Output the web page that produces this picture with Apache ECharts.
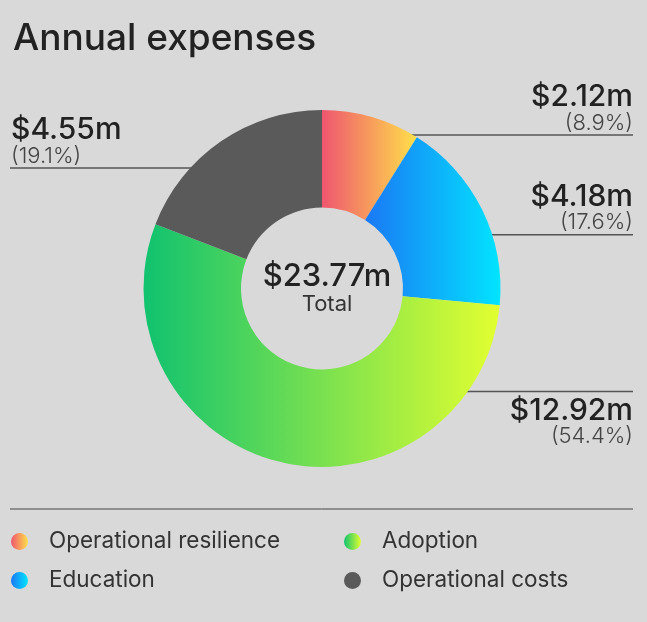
<!DOCTYPE html>
<html>
<head>
<meta charset="utf-8">
<script src="https://cdn.jsdelivr.net/npm/echarts@6/dist/echarts.min.js"></script>
<style>
  html, body {margin: 0; padding: 0; background: #d9d9d9;}
  #chart {width: 647px; height: 622px;}
</style>
</head>
<body>
<div id="chart"></div>
<script>
// data
const categories = ['Operational resilience', 'Education', 'Adoption', 'Operational costs']
const values = [2.12, 4.18, 12.92, 4.55]
const percents = [8.9, 17.6, 54.4, 19.1]
const totalCaption = 'Total'

// slice fills (left -> right gradients)
const fills = [
  ['#ef566f', '#ffe04a'],
  ['#1a78f4', '#02e4ff'],
  ['#10c26f', '#e2ff30'],
  ['#5b5a5b', '#5b5a5b']
]
// where each leader line leaves its slice: fraction along the slice, side of the label, text above/below line
const leaders = [
  {frac: 0.74, side: 'right', below: false},
  {frac: 0.62, side: 'right', below: false},
  {frac: 0.166, side: 'right', below: true},
  {frac: 0.36, side: 'left', below: false}
]

const CX = 322, CY = 288.5, R_IN = 81, R_OUT = 178.5
const FONT = 'Inter, "Noto Sans", sans-serif'

const total = values.reduce((a, b) => a + b, 0)
const money = v => '$' + v.toFixed(2) + 'm'

const chart = echarts.init(document.getElementById('chart'), null, {renderer: 'canvas'})

// start fraction of each slice (clockwise from 12 o'clock)
const starts = []
values.reduce((acc, v) => { starts.push(acc); return acc + v / total }, 0)

const labelLayout = (params) => {
  const i = params.dataIndex
  const l = leaders[i]
  const f = starts[i] + l.frac * values[i] / total
  const a = f * Math.PI * 2
  const r = R_OUT * 0.94
  const ax = CX + r * Math.sin(a)
  const ay = CY - r * Math.cos(a)
  const w = chart.getWidth()
  const ex = l.side === 'right' ? w - 14 : 10
  return {
    x: l.side === 'right' ? w - 14 : 11,
    y: l.below ? ay + 3 : ay - 2,
    align: l.side === 'right' ? 'right' : 'left',
    verticalAlign: l.below ? 'top' : 'bottom',
    labelLinePoints: [[ax, ay], [ax, ay], [ex, ay]]
  }
}

const legendBase = {
  orient: 'vertical', top: 530, padding: 0,
  icon: 'circle', itemWidth: 17, itemHeight: 17, itemGap: 16,
  selectedMode: false,
  textStyle: {fontFamily: FONT, fontSize: 22.5, color: '#333', lineHeight: 22, padding: [0, 0, 0, 16]}
}

chart.setOption({
  backgroundColor: '#d9d9d9',
  animation: false,
  title: [
    {
      text: 'Annual expenses',
      left: 8, top: 15,
      textStyle: {fontFamily: FONT, fontSize: 37, fontWeight: 500, color: '#222'}
    },
    {
      text: money(total),
      subtext: totalCaption,
      left: CX, top: 255,
      textAlign: 'center',
      itemGap: 0,
      textStyle: {fontFamily: FONT, fontSize: 31, fontWeight: 500, color: '#222', lineHeight: 34},
      subtextStyle: {fontFamily: FONT, fontSize: 22, color: '#333', lineHeight: 20}
    }
  ],
  legend: [
    Object.assign({data: categories.slice(0, 2), left: 11}, legendBase),
    Object.assign({data: categories.slice(2), left: 344}, legendBase)
  ],
  graphic: [{
    type: 'line',
    shape: {x1: 10, y1: 509, x2: 633, y2: 509},
    style: {stroke: '#444', lineWidth: 1}
  }],
  series: [{
    type: 'pie',
    center: [CX, CY],
    radius: [R_IN, R_OUT],
    startAngle: 90,
    clockwise: true,
    avoidLabelOverlap: false,
    emphasis: {disabled: true},
    label: {
      show: true,
      position: 'outside',
      formatter: p => `{v|${money(p.value)}}\n{p|(${percents[p.dataIndex]}%)}`,
      rich: {
        v: {fontFamily: FONT, fontSize: 30, fontWeight: 500, color: '#222', lineHeight: 32},
        p: {fontFamily: FONT, fontSize: 22, fontWeight: 300, color: '#444', lineHeight: 20}
      }
    },
    labelLine: {show: true, lineStyle: {color: '#555', width: 1.5}},
    labelLayout,
    data: categories.map((name, i) => ({
      name,
      value: values[i],
      itemStyle: {
        color: new echarts.graphic.LinearGradient(0, 0, 1, 0, [
          {offset: 0, color: fills[i][0]},
          {offset: 1, color: fills[i][1]}
        ])
      }
    }))
  }]
})
</script>
</body>
</html>
